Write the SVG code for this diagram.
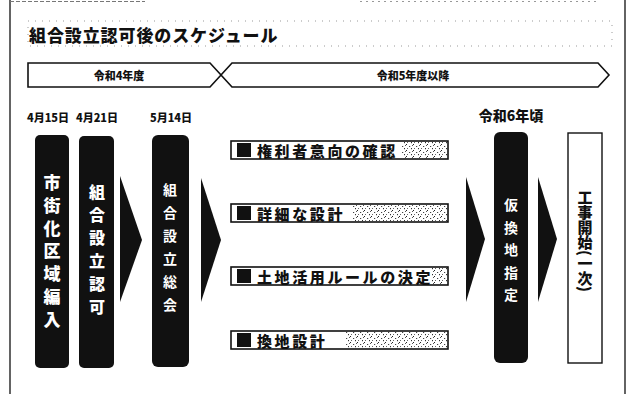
<svg xmlns="http://www.w3.org/2000/svg" width="633" height="394" viewBox="0 0 633 394">
<style>
text{font-family:"Noto Sans CJK JP","Noto Sans CJK SC",sans-serif;font-weight:bold;fill:#111;}
.heavy{font-weight:900;}
.blk{fill:#111;}
.vt{writing-mode:vertical-rl;fill:#fff;}
.bar{fill:#fff;stroke:#111;stroke-width:1.6;}
.tl{fill:#fff;stroke:#111;stroke-width:1.6;}
.lbl{font-size:15px;letter-spacing:2.6px;dominant-baseline:central;font-weight:900;}
.date{font-size:11px;dominant-baseline:central;font-weight:900;}
.frame{stroke:#222;stroke-width:1.4;fill:none;}
.dot{stroke:#999;stroke-width:1;stroke-dasharray:1 6;fill:none;}
</style>
<defs>
<pattern id="noise" width="7" height="6" patternUnits="userSpaceOnUse">
<rect x="0" y="0" width="1" height="1" fill="#222"/>
<rect x="3" y="2" width="1.2" height="1" fill="#444"/>
<rect x="5" y="4" width="1" height="1.2" fill="#333"/>
<rect x="1" y="4" width="1" height="1" fill="#666"/>
<rect x="6" y="1" width="1" height="1" fill="#555"/>
</pattern>
</defs>
<rect width="633" height="394" fill="#fff"/>
<!-- page frame -->
<line class="frame" x1="10" y1="0" x2="10" y2="394"/>
<line class="frame" x1="625" y1="0" x2="625" y2="394"/>
<line x1="10" y1="1.5" x2="145" y2="1.5" stroke="#777" stroke-width="1.2" stroke-dasharray="4 2"/>
<line x1="360" y1="1.5" x2="600" y2="1.5" stroke="#999" stroke-width="1" stroke-dasharray="2 4"/>
<!-- title -->
<g id="title">
<rect class="dot" x="28" y="21" width="584" height="25"/>
<text class="heavy" x="29" y="34" font-size="17" letter-spacing="0.9" dominant-baseline="central">組合設立認可後のスケジュール</text>
</g>
<!-- timeline -->
<g id="period1">
<polygon class="tl" points="28,63 210,63 221,75 210,87 28,87"/>
<text class="date" x="119" y="75" text-anchor="middle">令和4年度</text>
</g>
<g id="period2">
<polygon class="tl" points="232,63 598,63 609,75 598,87 232,87 221,75"/>
<text class="date" x="413" y="75" text-anchor="middle">令和5年度以降</text>
</g>
<!-- dates -->
<text class="date" x="48" y="117" text-anchor="middle">4月15日</text>
<text class="date" x="97" y="117" text-anchor="middle">4月21日</text>
<text class="date" x="171" y="117" text-anchor="middle">5月14日</text>
<text class="heavy" x="511" y="115" font-size="14" text-anchor="middle" dominant-baseline="central">令和6年頃</text>
<!-- nodes -->
<g id="n1">
<rect class="blk" x="35" y="135" width="34" height="233" rx="5"/>
<text class="vt heavy" x="52" y="174" font-size="17" letter-spacing="5.8">市街化区域編入</text>
</g>
<g id="n2">
<rect class="blk" x="79" y="136" width="35" height="232" rx="5"/>
<text class="vt heavy" x="97" y="184" font-size="16" letter-spacing="7">組合設立認可</text>
</g>
<g id="n3">
<rect class="blk" x="152" y="135" width="37" height="232" rx="6"/>
<text class="vt" x="170" y="183" font-size="14" letter-spacing="9">組合設立総会</text>
</g>
<g id="t1">
<rect class="bar" x="231" y="141" width="217" height="18"/>
<rect x="402" y="142" width="45" height="16" fill="url(#noise)"/>
<rect class="blk" x="237" y="143" width="14" height="14"/>
<text class="lbl" x="257" y="150">権利者意向の確認</text>
</g>
<g id="t2">
<rect class="bar" x="231" y="204" width="217" height="18"/>
<rect x="352" y="205" width="95" height="16" fill="url(#noise)"/>
<rect class="blk" x="237" y="206" width="14" height="14"/>
<text class="lbl" x="257" y="213">詳細な設計</text>
</g>
<g id="t3">
<rect class="bar" x="231" y="267" width="217" height="18"/>
<rect x="432" y="268" width="15" height="16" fill="url(#noise)"/>
<rect class="blk" x="237" y="269" width="14" height="14"/>
<text class="lbl" x="257" y="276">土地活用ルールの決定</text>
</g>
<g id="t4">
<rect class="bar" x="231" y="331" width="217" height="18"/>
<rect x="346" y="332" width="101" height="16" fill="url(#noise)"/>
<rect class="blk" x="237" y="333" width="14" height="14"/>
<text class="lbl" x="257" y="340">換地設計</text>
</g>
<g id="n4">
<rect class="blk" x="494" y="132" width="34" height="231" rx="6"/>
<text class="vt" x="511" y="198" font-size="14" letter-spacing="8.5">仮換地指定</text>
</g>
<g id="n5">
<rect x="568" y="133" width="34" height="230" fill="#fff" stroke="#111" stroke-width="1.4"/>
<text class="heavy" x="585" y="190" font-size="15" style="writing-mode:vertical-rl">工事開始(一次)</text>
</g>
<!-- connectors -->
<g id="connectors" class="blk">
<polygon points="120,176 142,240 120,302"/>
<polygon points="201,178 221,240 201,302"/>
<polygon points="466,177 485,239 466,302"/>
<polygon points="538,177 557,239 538,302"/>
</g>
</svg>
